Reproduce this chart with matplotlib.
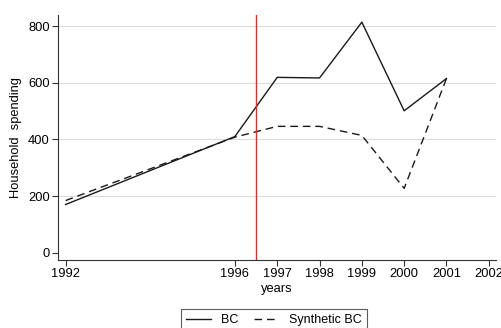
import numpy as np
import matplotlib.pyplot as plt

plt.rcParams['font.family'] = ['Liberation Sans', 'DejaVu Sans']

years = [1992, 1996, 1997, 1998, 1999, 2000, 2001]
bc = [170, 410, 619, 617, 814, 501, 615]
synthetic_bc = [184, 408, 446, 446, 414, 227, 615]
xticks = [1992, 1996, 1997, 1998, 1999, 2000, 2001, 2002]
yticks = [0, 200, 400, 600, 800]
treatment = 1996.5

fig = plt.figure(figsize=(5.01, 3.28), dpi=100)
ax = fig.add_axes([0.1158, 0.2073, 0.8742, 0.7467])

for y in yticks[1:]:
    ax.axhline(y, color='#dcdcdc', lw=0.8, zorder=0)

ax.plot(years, bc, color='#1a1a1a', lw=1.0, label='BC')
ax.plot(years, synthetic_bc, color='#1a1a1a', lw=1.0, ls=(0, (5.5, 3.5)), label='Synthetic BC')
ax.axvline(treatment, color='#ff2020', lw=1.0)

ax.set_xlim(1991.82, 2002.17)
ax.set_ylim(-26, 839)
ax.set_xticks(xticks)
ax.set_yticks(yticks)
ax.tick_params(labelsize=9.3, length=4, width=0.8, color='#333333', pad=2)
for s in ['top', 'right']:
    ax.spines[s].set_visible(False)
for s in ['left', 'bottom']:
    ax.spines[s].set_color('#333333')
    ax.spines[s].set_linewidth(0.8)

ax.set_xlabel('years', fontsize=9.3, labelpad=2)
ax.set_ylabel('Household  spending', fontsize=9.3, labelpad=4)

# legend partly below the figure edge, as in the original
leg = fig.legend(loc='upper center', bbox_to_anchor=(274 / 501, 1 - 309 / 328), ncol=2,
                 fontsize=9, frameon=True, fancybox=False, handlelength=2.0,
                 borderpad=0.4, columnspacing=1.2, borderaxespad=0)
leg.get_frame().set_edgecolor('#333333')
leg.get_frame().set_linewidth(0.8)

fig.savefig('out.png', dpi=100)
